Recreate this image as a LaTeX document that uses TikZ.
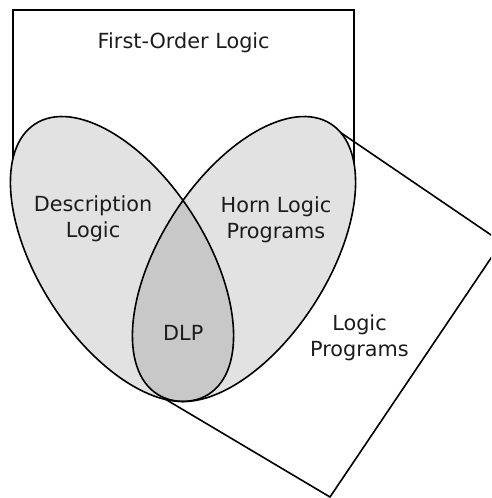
\documentclass[tikz,border=0pt]{standalone}
\usepackage{fontspec}
\setmainfont{DejaVu Sans}
\definecolor{setgray}{RGB}{226,226,226}
\definecolor{dlpgray}{RGB}{200,200,200}
\definecolor{inkgray}{RGB}{28,28,28}
\begin{document}
\begin{tikzpicture}[x=1pt,y=-1pt,
  edge/.style={draw=black, line width=1.6pt, line join=miter},
  setfill/.style={fill=setgray},
  dlpfill/.style={fill=dlpgray},
  lbl/.style={font=\fontsize{20.8}{26.2}\selectfont, text=inkgray, align=center, inner sep=0pt},
  leftset/.style={rotate around={-57.3:(122,259)}},
  rightset/.style={rotate around={57.3:(244,259)}}]
\useasboundingbox (0,0) rectangle (491,498);
\clip (0,0) rectangle (491,498);

% named corner points
\coordinate (folBL) at (13,186);
\coordinate (folTL) at (13,10);
\coordinate (folTR) at (354,10);
\coordinate (folBR) at (354,186);
\coordinate (lpT) at (326,122.6);
\coordinate (lpR) at (501.7,242.2);
\coordinate (lpB) at (330,497);
\coordinate (lpL) at (160,396);

% First-order logic frame (its lower part lies under the sets)
\draw[edge] (folBL) -- (folTL) -- (folTR) -- (folBR);

% Logic programs square
\draw[edge] (lpT) -- (lpR) -- (lpB) -- (lpL) -- cycle;

% the two sets, filled
\path[setfill, leftset] (122,259) ellipse [x radius=160.6pt, y radius=83.4pt];
\path[setfill, rightset] (244,259) ellipse [x radius=160.6pt, y radius=83.4pt];

% their overlap
\begin{scope}
  \clip[leftset] (122,259) ellipse [x radius=160.6pt, y radius=83.4pt];
  \path[dlpfill, rightset] (244,259) ellipse [x radius=160.6pt, y radius=83.4pt];
\end{scope}

% outlines on top
\draw[edge, leftset] (122,259) ellipse [x radius=160.6pt, y radius=83.4pt];
\draw[edge, rightset] (244,259) ellipse [x radius=160.6pt, y radius=83.4pt];

% labels
\node[lbl, anchor=base] (fol) at (183.7,48.3) {First-Order Logic};
\node[lbl] (dl) at (93,218.8) {Description\\Logic};
\node[lbl] (horn) at (276,219.5) {Horn Logic\\Programs};
\node[lbl, anchor=base] (dlp) at (183.3,340.7) {DLP};
\node[lbl] (lp) at (359.5,337.6) {Logic\\Programs};
\end{tikzpicture}
\end{document}
